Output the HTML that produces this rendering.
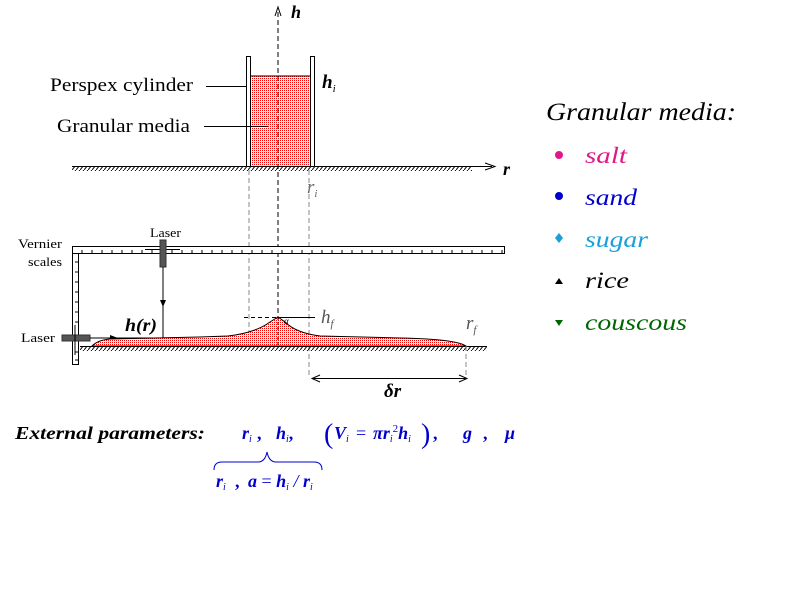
<!DOCTYPE html>
<html><head><style>
body{margin:0;background:#fff}
svg{display:block}
text{font-family:"Liberation Serif",serif}
</style></head><body>
<svg width="800" height="600" viewBox="0 0 800 600" xmlns="http://www.w3.org/2000/svg">
<defs>
<pattern id="dots" width="2" height="2" patternUnits="userSpaceOnUse"><rect width="2" height="2" fill="#fff"/><rect x="0" y="0" width="1" height="1" fill="#f00"/></pattern>
<pattern id="hatch" width="4" height="5" patternUnits="userSpaceOnUse"><line x1="0" y1="5" x2="4" y2="0" stroke="#000" stroke-width="1"/></pattern>
</defs>
<rect x="250" y="76" width="60" height="90" fill="url(#dots)"/>
<line x1="250" y1="76" x2="310" y2="76" stroke="#000"/>
<rect x="246.5" y="56.5" width="4" height="110" fill="#fff" stroke="#000"/>
<rect x="310.5" y="56.5" width="4" height="110" fill="#fff" stroke="#000"/>
<rect x="72" y="166" width="400" height="5" fill="url(#hatch)"/>
<line x1="72" y1="166.5" x2="492" y2="166.5" stroke="#000"/>
<path d="M485 163 L495 166.5 L485 170" fill="none" stroke="#000"/>
<text x="503" y="175" font-size="18" font-weight="bold" font-style="italic">r</text>
<line x1="278" y1="345" x2="278" y2="10" stroke="#000" stroke-dasharray="5,3"/>
<path d="M275 16 L278 7 L281 16" fill="none" stroke="#000"/>
<text x="291" y="18" font-size="18" font-weight="bold" font-style="italic">h</text>
<text x="50" y="91" font-size="19" textLength="143" lengthAdjust="spacingAndGlyphs">Perspex cylinder</text>
<line x1="206" y1="86.5" x2="246" y2="86.5" stroke="#000"/>
<text x="57" y="132" font-size="19" textLength="133" lengthAdjust="spacingAndGlyphs">Granular media</text>
<line x1="204" y1="126.5" x2="268" y2="126.5" stroke="#000"/>
<text x="322" y="88" font-size="19" font-weight="bold" font-style="italic">h<tspan font-size="11" dy="4" font-weight="normal">i</tspan></text>
<text x="307" y="193" font-size="19" font-style="italic" fill="#666">r<tspan font-size="11" dy="4">i</tspan></text>
<line x1="249" y1="170" x2="249" y2="345" stroke="#888" stroke-dasharray="5,3"/>
<line x1="309" y1="170" x2="309" y2="378" stroke="#888" stroke-dasharray="5,3"/>
<rect x="72.5" y="246.5" width="432" height="7" fill="#fff" stroke="#000"/>
<rect x="72.5" y="253.5" width="6" height="111" fill="#fff" stroke="#000"/>
<g stroke="#000">
<path d="M82 253v-3M92 253v-3M102 253v-3M112 253v-3M122 253v-3M132 253v-3M142 253v-3M152 253v-3M172 253v-3M182 253v-3M192 253v-3M202 253v-3M212 253v-3M222 253v-3M232 253v-3M242 253v-3M252 253v-3M262 253v-3M272 253v-3M282 253v-3M292 253v-3M302 253v-3M312 253v-3M322 253v-3M332 253v-3M342 253v-3M352 253v-3M362 253v-3M372 253v-3M382 253v-3M392 253v-3M402 253v-3M412 253v-3M422 253v-3M432 253v-3M442 253v-3M452 253v-3M462 253v-3M472 253v-3M482 253v-3M492 253v-3M502 253v-3"/>
<path d="M78 262h-3M78 272h-3M78 282h-3M78 292h-3M78 302h-3M78 312h-3M78 322h-3M78 352h-3M78 360h-3"/>
</g>
<line x1="145" y1="249.5" x2="180" y2="249.5" stroke="#000"/>
<rect x="160" y="240" width="6" height="27" fill="#555" stroke="#333"/>
<line x1="163" y1="267" x2="163" y2="338" stroke="#000"/>
<path d="M160 300 L163 307 L166 300 Z" fill="#000"/>
<rect x="62" y="335" width="28" height="6" fill="#555" stroke="#333"/>
<line x1="75" y1="325" x2="75" y2="355" stroke="#000"/>
<line x1="90" y1="338" x2="163" y2="338" stroke="#000"/>
<path d="M110 335 L118 338 L110 341 Z" fill="#000"/>
<rect x="80" y="346" width="407" height="5" fill="url(#hatch)"/>
<path d="M92 346 Q98 340 110 339 L200 337 L228 336 Q255 333 270 322 L278 317 L285 322 Q296 333 320 336 L400 338 Q455 339 466 346 Z" fill="url(#dots)" stroke="#000"/>
<line x1="80" y1="346.5" x2="487" y2="346.5" stroke="#000"/>
<line x1="278" y1="317" x2="278" y2="346" stroke="#000" stroke-dasharray="3,2"/>
<line x1="244" y1="317.5" x2="278" y2="317.5" stroke="#000" stroke-dasharray="4,3"/>
<line x1="278" y1="317.5" x2="315" y2="317.5" stroke="#000"/>
<text x="284" y="324" font-size="9" font-style="italic">α</text>
<text x="321" y="323" font-size="19" font-style="italic" fill="#555">h<tspan font-size="11" dy="4">f</tspan></text>
<text x="466" y="329" font-size="19" font-style="italic" fill="#555">r<tspan font-size="11" dy="4">f</tspan></text>
<line x1="466" y1="346" x2="466" y2="378" stroke="#888" stroke-dasharray="5,3"/>
<line x1="313" y1="378.5" x2="466" y2="378.5" stroke="#000"/>
<path d="M320 375 L312 378.5 L320 382 M459 375 L467 378.5 L459 382" fill="none" stroke="#000"/>
<text x="384" y="397" font-size="19" font-weight="bold" font-style="italic">δr</text>
<text x="125" y="331" font-size="18" font-weight="bold" font-style="italic" textLength="32" lengthAdjust="spacingAndGlyphs">h(r)</text>
<text x="150" y="237" font-size="13" textLength="31" lengthAdjust="spacingAndGlyphs">Laser</text>
<text x="18" y="248" font-size="13" textLength="44" lengthAdjust="spacingAndGlyphs">Vernier</text>
<text x="28" y="266" font-size="13" textLength="34" lengthAdjust="spacingAndGlyphs">scales</text>
<text x="21" y="342" font-size="13" textLength="34" lengthAdjust="spacingAndGlyphs">Laser</text>
<text x="15" y="439" font-size="18" font-weight="bold" font-style="italic" textLength="190" lengthAdjust="spacingAndGlyphs">External parameters:</text>
<g fill="#00c" font-weight="bold" font-style="italic" font-size="18">
<text x="242" y="439">r<tspan font-size="10" dy="3" font-weight="normal">i</tspan></text>
<text x="257" y="439" font-style="normal">,</text>
<text x="276" y="439">h<tspan font-size="10" dy="3" font-weight="normal">i</tspan><tspan dy="-3" font-style="normal">,</tspan></text>
<text x="324" y="443" font-size="28" font-style="normal" font-weight="normal">(</text>
<text x="334" y="439">V<tspan font-size="10" dy="3" font-weight="normal">i</tspan></text>
<text x="356" y="439" font-style="normal" font-weight="normal">=</text>
<text x="373" y="439">πr<tspan font-size="10" dy="3" font-weight="normal">i</tspan><tspan font-size="11" dy="-10" font-weight="normal" font-style="normal">2</tspan><tspan dy="7">h</tspan><tspan font-size="10" dy="3" font-weight="normal">i</tspan></text>
<text x="421" y="443" font-size="28" font-style="normal" font-weight="normal">)</text>
<text x="433" y="439" font-style="normal">,</text>
<text x="463" y="439">g</text><text x="483" y="439" font-style="normal">,</text>
<text x="505" y="439">μ</text>
<text x="216" y="487">r<tspan font-size="10" dy="3" font-weight="normal">i</tspan></text>
<text x="235" y="487" font-style="normal">,</text>
<text x="248" y="487">a<tspan font-style="normal" font-weight="normal"> = </tspan>h<tspan font-size="10" dy="3" font-weight="normal">i</tspan><tspan dy="-3" font-weight="normal"> / </tspan>r<tspan font-size="10" dy="3" font-weight="normal">i</tspan></text>
</g>
<path d="M214 470 Q214 462 222 462 L258 462 Q265 462 267 452 Q269 462 276 462 L314 462 Q322 462 322 470" fill="none" stroke="#00c"/>
<text x="546" y="120" font-size="25" font-style="italic" textLength="190" lengthAdjust="spacingAndGlyphs">Granular media:</text>
<circle cx="559" cy="155" r="4" fill="#e0198a"/>
<text x="585" y="163" font-size="23" font-style="italic" fill="#e0198a" textLength="42" lengthAdjust="spacingAndGlyphs">salt</text>
<circle cx="559" cy="196" r="4" fill="#00c"/>
<text x="585" y="205" font-size="23" font-style="italic" fill="#00c" textLength="52" lengthAdjust="spacingAndGlyphs">sand</text>
<path d="M559 233 L563 238 L559 243 L555 238 Z" fill="#19a0d8"/>
<text x="585" y="247" font-size="23" font-style="italic" fill="#19a0d8" textLength="63" lengthAdjust="spacingAndGlyphs">sugar</text>
<path d="M555 284 L559 278 L563 284 Z" fill="#000"/>
<text x="585" y="288" font-size="23" font-style="italic" textLength="44" lengthAdjust="spacingAndGlyphs">rice</text>
<path d="M555 320 L563 320 L559 326 Z" fill="#006600"/>
<text x="585" y="330" font-size="23" font-style="italic" fill="#006600" textLength="102" lengthAdjust="spacingAndGlyphs">couscous</text>
</svg>
</body></html>
